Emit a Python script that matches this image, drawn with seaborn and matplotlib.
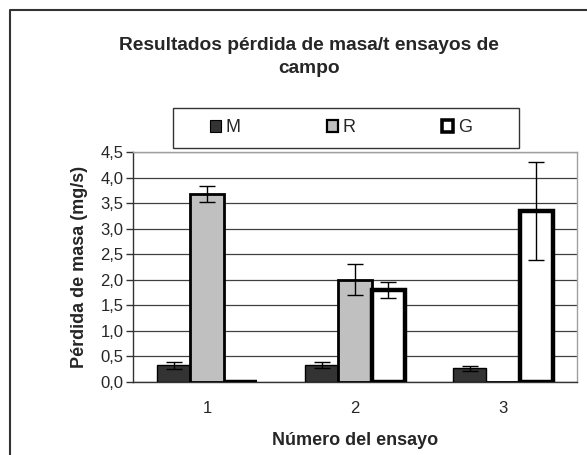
import pandas as pd
import numpy as np
import matplotlib
matplotlib.use("Agg")
import matplotlib.pyplot as plt
import seaborn as sns
from matplotlib.lines import Line2D
from matplotlib.patches import Rectangle

# data
ensayos = ["1", "2", "3"]
series = ["M", "R", "G"]
m_vals = [0.33, 0.33, 0.27]
m_err = [0.07, 0.06, 0.05]
r_vals = [3.68, 2.0, 0.0]
r_err = [0.15, 0.30, 0.0]
g_vals = [0.0, 1.80, 3.35]
g_err = [0.0, 0.15, 0.96]

fills = {"M": "#333333", "R": "#c0c0c0", "G": "#ffffff"}
edges = {"M": 1.0, "R": 2.0, "G": 3.2}

df = pd.DataFrame({
    "ensayo": ensayos * 3,
    "serie": ["M"] * 3 + ["R"] * 3 + ["G"] * 3,
    "valor": m_vals + r_vals + g_vals,
    "err": m_err + r_err + g_err,
})

sns.set_style("white")
plt.rcParams["font.family"] = ["Liberation Sans", "DejaVu Sans"]

W, H = 587, 455
fig = plt.figure(figsize=(W / 100, H / 100), dpi=100)
ax = fig.add_axes([133 / W, 1 - 382 / H, 444 / W, 230 / H])

sns.barplot(data=df, x="ensayo", y="valor", hue="serie", hue_order=series,
            palette=fills, width=0.67, gap=0, edgecolor="black",
            legend=False, ax=ax)

# style each series and add the error bars at the bar centres
for cont, s in zip(ax.containers, series):
    sub = df[df["serie"] == s]
    xs, ys = [], []
    for patch in cont.patches:
        patch.set_linewidth(edges[s])
        patch.set_edgecolor("black")
        patch.set_zorder(3)
        xs.append(patch.get_x() + patch.get_width() / 2)
        ys.append(patch.get_height())
    errs = sub["err"].to_numpy()
    keep = errs > 0
    ax.errorbar(np.array(xs)[keep], np.array(ys)[keep], yerr=errs[keep],
                fmt="none", ecolor="black", elinewidth=1.0, capsize=5.5,
                capthick=1.0, zorder=4)

ax.set_ylim(0, 4.5)
ax.set_xlim(-0.5, 2.5)
yt = np.arange(0, 4.51, 0.5)
ax.set_yticks(yt)
ax.set_yticklabels([f"{v:.1f}".replace(".", ",") for v in yt], fontsize=12)
ax.yaxis.grid(True, color="#404040", linewidth=0.9, zorder=0)
ax.set_axisbelow(True)

# category labels without ticks, boundary ticks as minor ticks
ax.tick_params(axis="x", which="major", length=0, labelsize=12, pad=14)
ax.set_xticks([-0.5, 0.5, 1.5, 2.5], minor=True)
ax.tick_params(axis="x", which="minor", length=5, width=1, color="#333333", direction="out")
ax.tick_params(axis="y", length=5, width=1, color="#333333", direction="out",
               left=True, pad=2)

for side in ["left", "bottom"]:
    ax.spines[side].set_color("#333333")
    ax.spines[side].set_linewidth(1.0)
for side in ["top", "right"]:
    ax.spines[side].set_color("#a0a0a0")
    ax.spines[side].set_linewidth(1.0)

ax.set_xlabel("Número del ensayo", fontsize=13, fontweight="bold", labelpad=11)
ax.set_ylabel("Pérdida de masa (mg/s)", fontsize=13, fontweight="bold", labelpad=9)

fig.text(309 / W, 1 - 57 / H, "Resultados pérdida de masa/t ensayos de\ncampo",
         ha="center", va="center", fontsize=13.8, fontweight="bold", linespacing=1.45)

# legend box
fig.patches.append(Rectangle((173 / W, 1 - 148 / H), 346 / W, 40 / H,
                             transform=fig.transFigure, fill=False,
                             edgecolor="#333333", linewidth=1.0))
handles = [Rectangle((0, 0), 1, 1, facecolor=fills[s], edgecolor="black",
                     linewidth=edges[s] * 0.8) for s in series]
fig.legend(handles, series, loc="center", bbox_to_anchor=(341 / W, 1 - 128 / H),
           ncol=3, frameon=False, fontsize=13, handlelength=0.6, handleheight=0.6,
           handletextpad=0.25, columnspacing=4.8)

# outer chart frame (left and top edges visible)
fig.add_artist(Line2D([10 / W, 10 / W, 1.0], [0, 1 - 10 / H, 1 - 10 / H],
                      transform=fig.transFigure, color="#333333", linewidth=1.5))

fig.savefig("out.png", dpi=100, facecolor="white")
